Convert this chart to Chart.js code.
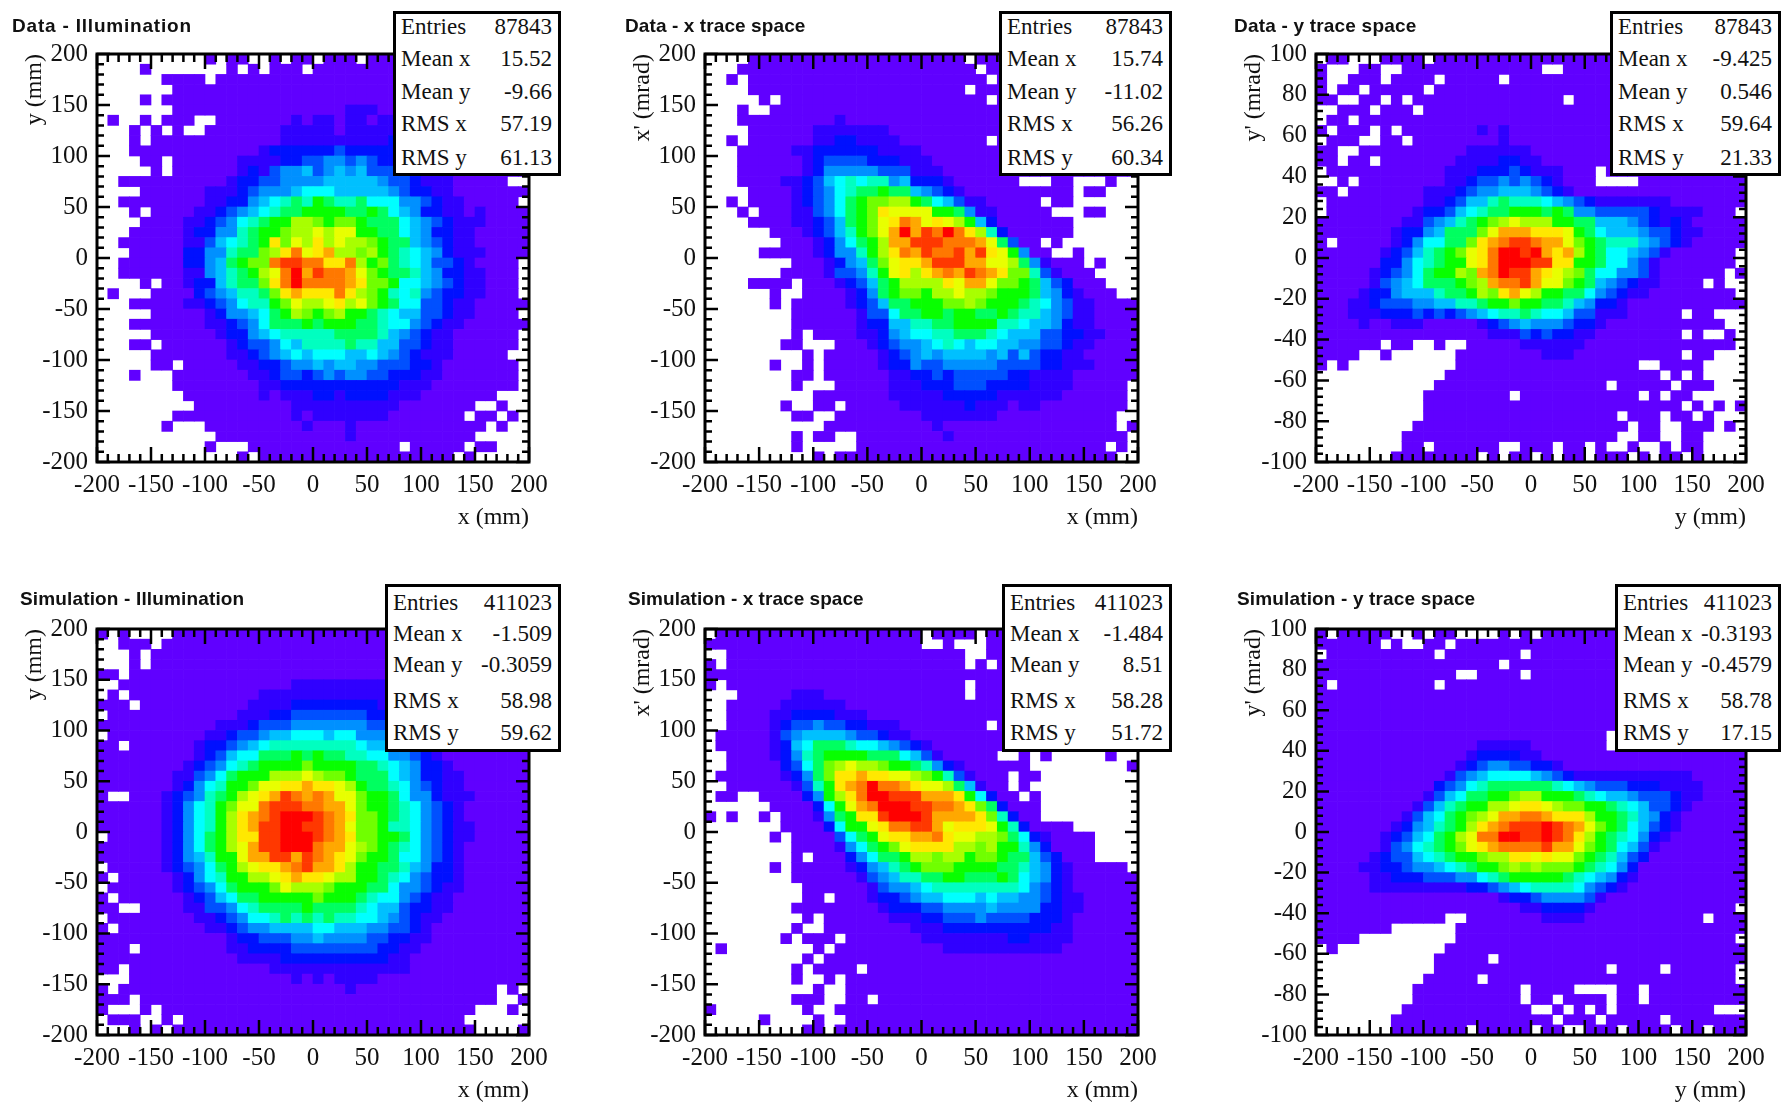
<!DOCTYPE html>
<html>
<head>
<meta charset="utf-8">
<title>Data and simulation trace space</title>
<script src="https://cdn.jsdelivr.net/npm/chart.js@4/dist/chart.umd.min.js"></script>
<style>
  html, body { margin: 0; padding: 0; background: #fff; }
  body { position: relative; width: 1783px; height: 1103px; overflow: hidden; }
  canvas { position: absolute; }
  .title { position: absolute; font: bold 19px "Liberation Sans", sans-serif; color: #111; white-space: nowrap; line-height: 20px; }
  .stats { position: absolute; box-sizing: border-box; background: #fff; border: 3px solid #000; font: 23px "Liberation Serif", serif; color: #111; }
  .stats div { position: absolute; left: 5px; right: 6px; display: flex; justify-content: space-between; line-height: 26px; white-space: nowrap; }
</style>
</head>
<body>
<script>
'use strict';

// one character per bin, top row first: . = empty, then 1-9, a-i = colour level 1 to 18
let dataIllumination = [
  ".......... 1.11..1.11 .111.11111 1111111111",
  "....1..... ..1.1.111. 1111111111 1111111111",
  "......1111 .111111111 1111111111 1111111111",
  ".......111 1111111111 1111111111 1111111111",
  "....1.1111 1111111111 1111111111 1111111111",
  ".......111 1111111111 1112221111 1111111111",
  ".1..1.111. .111111121 2212212222 2222211111",
  "...1.1.1.. 1111111222 2212222233 3322211111",
  "...1.11111 1111111222 2222222333 3322211111",
  "...1111111 1111123333 3343333333 3333222111",
  "....11.111 1112222334 4554543344 3332211111",
  ".....1.111 1112324556 4565644444 3322111111",
  "..11111111 1123344555 5666665443 22211111..",
  "....111111 2223455567 7766666543 3221111111",
  "..11111111 2233567898 a988977755 432211111.",
  "...1.11112 234567899a aaa99a9765 3322121111",
  "....111122 345789aacc babba99976 5432221111",
  "...1111123 35589aabcc dcddaa9976 5332211111",
  "..11111122 46789aebdc ecdccba996 5432211111",
  "...1111133 55899bcegd efccbca987 6532221111",
  "..11111133 569abbghhg geegcab987 644321111.",
  "..11111122 5689acdgif hggfdba998 653322111.",
  "....1.1123 36899begig gggfebba77 654322111.",
  ".1...11113 456889befe eegecba878 543322111.",
  "...1111122 345788abdc cdecdba977 4432211111",
  ".....11111 2355679acb abcaa98766 443221111.",
  "...1111111 223457999a 9aaa998775 4322111111",
  ".....11111 1233567888 8899998654 322111111.",
  "...11.1111 1123445768 8889886644 322111111.",
  ".....11111 1122345676 7776676543 22211111..",
  ".....11.11 1112233455 6566554443 321111111.",
  "...1...111 1111223443 4545544333 221111111.",
  ".......111 1111122333 3333333322 211111111.",
  "........11 1111121222 3323333222 1111111...",
  ".........1 1111111122 2222222211 11111..1..",
  ".......111 1111111121 2222222111 1111.11.1.",
  "......1... 1111111112 1112111111 111111.1..",
  ".......... .111111111 1112111111 11111.....",
  ".......... 1...111111 11111111.1 1111.11...",
  ".......... ...1.11111 1111111111 111.1....."
];

let dataXTrace = [
  "....111111 1111111111 1111.11111 1111111111",
  "...1111111 1111111111 11111.1111 1111111111",
  "..1.111111 1111111111 111111.111 1111111111",
  "....111111 1111111111 1111.11111 1111111111",
  ".....1.111 1111111111 111111.111 1111111111",
  "...1..1111 1111111111 1111111111 1111111111",
  "...1111111 1121111111 1111111111 1111111111",
  "....111111 2222222111 1111111111 1111111111",
  "..1.111111 2233222211 111111.111 1111111111",
  "...1111122 3333332222 1111111111 1111111111",
  "...1111112 3444433322 2111111111 1111111111",
  "...1111112 3555554442 2211111111 1111111111",
  "...1111223 4678788563 332111111. ..11...1..",
  "....111123 457899a996 5432111111 1111.11...",
  "..1.111123 4579abbcca 9764221111 1.11......",
  "...1.11122 4579abeddd daa9522111 11...11...",
  "....111122 3469abdegf dedca63111 1111......",
  "......1112 3468abdfif hgigec8311 1111......",
  ".......111 23579acffh hhgggfd941 1.1.......",
  ".....11111 23558acegf hgghfheda5 11..1.....",
  "........11 123569bdee fhhhffddc9 52111.1...",
  ".......111 124458adec efgfhgfebb 842111....",
  "....1111.1 1123469acc ccedffdbba 9643111...",
  "......1..1 1112359abb accdccbaaa 96532111..",
  "......1.11 111234699a aabbcbaaa9 8754221111",
  "........11 1111244799 aa9aa99a98 8654221111",
  "........11 1111233668 899aaaa887 6653221111",
  "........1. 1111223567 7889998766 6443322111",
  ".......11. ..11123455 6787677665 5443221111",
  ".........1 .111112345 6566665646 4332211111",
  "......1..1 .111112335 4455555444 4332221111",
  "........11 .111111223 3434444433 2222111111",
  "........1. ..11111222 3334443333 222211111.",
  ".......... 1111111222 2233333222 222111111.",
  ".......1.. 11.1111122 2222322212 211111111.",
  "........11 ..11111111 2222222111 11111111..",
  ".......... .111111111 1211111111 11111111.1",
  "........1. 11..111111 1121111111 111111111.",
  "........1. ....111111 1111111111 1111111.1.",
  ".......... 1.11111111 1111111111 11111111.."
];

let dataYTrace = [
  ".11...1111 .111111111 1111111111 1111111111",
  "1...11..11 1111111111 1..1111111 1111111111",
  "1..111.111 1.11111.11 1111111111 1111111111",
  "1.11.11111 .111111111 1111111111 1111111111",
  "11..11.1.1 1111111111 111.111111 1111111111",
  "..111.111. 1111111111 1111111111 1111111111",
  ".11.111111 1111111111 1111111111 1111111111",
  "1.111.1.11 1111121211 1111111111 1111111111",
  ".111..11.1 1111111211 1111111111 1111111111",
  "11..111111 1111222222 1111111111 1111111111",
  "11.11.1111 1112222332 2111111111 1111111111",
  ".111111111 1122233343 222111.111 1111111111",
  "..1.111111 1122344545 432111.... 1111111111",
  "11.1111111 2223455666 5432111111 1111111111",
  ".111111111 2234668988 8765432222 2221111111",
  ".111111112 33467899aa a9a9554444 432222111.",
  "1111111122 45689abcdc ccaa996665 4323211111",
  "1111111233 56999bdfff eeeda97666 5443221111",
  "1.11111235 7799befghh gffdba9888 6543211111",
  "1111112346 89abdegiih ifefca9776 542111111.",
  "1111113357 89aadegiii hheeaa9775 421111111.",
  "1111123457 9aacbfgihh fedcb97755 42111111.1",
  "1111124567 999abcfggh fddba96543 221111.1..",
  "1111233566 6899acbefd caa9975432 211111111.",
  "1112234445 566889aaba a998653321 1111111111",
  "1112223334 3434567889 8776442221 1111.11...",
  "1111211222 1111123456 5554332111 11111111..",
  "1111111111 1111112224 3433221111 1111.1..1.",
  "111111.11. .1..111112 2222211111 111111111.",
  "1111..1... ...1111111 1222111111 1111.11...",
  "1.1....... ...1111111 1111111111 ..1111....",
  ".......... ..11111111 1111111111 11.1.1....",
  ".......... .111111111 1111111.11 111.111...",
  ".......... 11111111.1 1111111111 .1.11.....",
  ".......... 1111111111 1111111111 1111.1.1.1",
  ".......... 1111111111 11111111.1 11.11.1...",
  ".........1 1111111111 111111111. 11..111.1.",
  "........11 1111111111 11111111.. 11..11....",
  "........11 .111111..1 11.11.1..1 ..1.11....",
  ".......111 11111.1.11 .1.11.111. 1.11.1...."
];

let simIllumination = [
  "1.1....111 1111111111 1111111111 1111111111",
  "..111.1111 1111111111 1111111111 1111111111",
  "...1.11111 1111111111 1111111111 1111111111",
  "...1.11111 1111111111 1111111111 1111111111",
  "11.1111111 1111111111 1111111111 1111111111",
  "..11111111 1111111122 2222222222 2211111111",
  ".1.1111111 1111122222 2222222222 2221111111",
  "111.111111 1111222233 3333332222 2221111111",
  ".111111111 1112223344 4444433333 3322111111",
  "1111111111 1222344455 5555544444 4433221111",
  ".111111111 2234456677 7677555443 3221111111",
  "11.1111112 3345678888 8888766554 3322111111",
  "1111111112 34677999a9 a998877554 3211111111",
  "1111111123 45789aaaab aaaa998765 3321111111",
  "1111111224 579aaacccd cbba999765 3322111111",
  "1111111235 78aabddeef eedca99875 4322111111",
  "1..1112345 89acdefhgf gfddbaa975 5322211111",
  "1111112357 8abddghhhg gffdbaa987 5432111111",
  "1111112357 8acefghiii hgfebba987 5432111111",
  "1111112357 8acefhhiih hgfdbba887 5432211111",
  ".111112357 9aceehhiii hgfebbaa97 5432211111",
  "1111112357 9acdfhhiii gffdcba987 5432111111",
  "1111112356 8aadffhhfh gfedbaa977 5432111111",
  ".111112345 79acdeefgh ffecaa9986 5332111111",
  "1.11111235 78aaccdefe edccaa9875 4332111111",
  ".111111234 579aaabdcc cbaaa99755 4322111111",
  "1.11111123 46799aaaaa baaa987754 3221111111",
  "11..111122 445789999a 9999876643 3221111111",
  ".111111112 2345778989 8988776543 2211111111",
  "1.11111111 2234556666 7766655443 2111111111",
  "1111111111 1123344455 6555544332 2111111111",
  "111.111111 1122333344 4444443322 1111111111",
  "1111111111 1112222333 3333333221 1111111111",
  "11.1111111 1111112222 2222222221 1111111111",
  "...1111111 1111111121 2122221111 1111111111",
  "1.11111111 1111111111 1112111111 1111111.1.",
  "111.111111 1111111111 1111111111 1111111..1",
  "1...1.1111 1111111111 1111111111 11111...1.",
  ".111..1.11 1111111111 1111111111 1111......",
  "...1.1.111 1111111111 1111111111 11111....1"
];

let simXTrace = [
  ".111111111 1111111111 .1111.1111 1111111111",
  "1111111111 1111111111 ..1...1111 1111111111",
  "..11111111 1111111111 1111..1111 1111111111",
  "1.11111111 1111111111 1111.1.111 1111111111",
  "1111111111 1111111111 1111111111 1111111111",
  "1.11111111 1111111111 1111.11111 1111111111",
  "...1111122 2111111111 1111.11111 1111111111",
  "..11111222 2221111111 1111111111 1111111111",
  "..11112233 3322211111 1111111111 1111111111",
  "..11112344 5443322211 111111.111 1111111111",
  ".111112456 6665443221 1111111111 1111111111",
  ".111112367 9998776543 2111111111 1111111111",
  "..11112358 9aaaa99976 4211111..1 .1.....1..",
  "..11111347 9bcdccbaa9 8532111111 .........1",
  ".111111235 9beefeeddc ba842111.1 1.........",
  "..11111124 8aefgiggfe ddc96211.1 ..........",
  ".11..11113 5acegiihhh fffea7311. 1.........",
  "......1111 37adfgiiih hggfeb9311 1.........",
  "1.1..1.111 259aeehiii hffffeb831 1.........",
  ".......111 137aadeggh hfdeeeda83 1111......",
  "......1.11 11479adeef fgeddccb97 321111....",
  "........11 112579abde eeeccbcaa8 531111....",
  "........1. 11135799ac cbccabba99 643111....",
  "......1.11 111235689a bbbaaaa998 653211111.",
  "........11 1111245688 99aa999a97 6532111111",
  ".........1 1111124556 7888888887 5432111111",
  ".........1 1.11123345 6677767665 5432211111",
  "........11 1111112333 4455556555 5332211111",
  ".........1 .111111222 3344454444 3332111111",
  "........1. .111111112 2233333333 3322111111",
  ".......1.1 11.1111111 2222222233 2222111111",
  ".1........ 1.11111111 1122222222 2221111111",
  ".........1 .111111111 1111111111 1111111111",
  "........1. 1111.11111 1111111111 1111111111",
  "........1. .1.1111111 1111111111 1111111111",
  ".......... 1..1111111 1111111111 1111111111",
  "........11 1..11.1111 1111111111 1111111111",
  "1........1 ..11111111 1111111111 1111111111",
  ".....1.... 1..1111111 1111111111 1111111111",
  ".........1 1.11111111 1111111111 1111111111"
];

let simYTrace = [
  "1.11111..1 .11....1.1 .111111111 1111111111",
  "111111.1.. 11.1111111 1111111111 1111111111",
  ".111111111 1.1111111. 1111111111 1111111111",
  "1111111111 1111111.11 1111111111 1111111111",
  "1111111111 111..1111. 1111111111 1111111111",
  "1.11111111 1.11111111 1111111111 1111111111",
  "1111111111 1111111111 1111111111 1111111111",
  "1111111111 1111111111 1111111111 1111111111",
  "1111111111 1111111111 1111111111 1111111111",
  "1111111111 1111111111 1111111111 1111111111",
  "1111111111 1111111111 1111111.11 1111111111",
  "1111111111 1111122222 1111111.11 1111111111",
  "1111111111 1111233332 2111111111 1111111111",
  "1111111111 1112345544 3321111111 1111111111",
  "1111111111 1124567777 6543222222 2222211111",
  "1111111111 1345789999 9987654443 3322221111",
  "1111111111 246799aabc caaa987665 4443221111",
  "1111111112 4689aaccde edcbbaa987 6443211111",
  "1111111124 679abcdffg gfeeecaa98 6532111111",
  "1111111235 689acefghh hihgfdba97 6432111111",
  "1111112346 79acdggiih hihgeca987 5321111111",
  "1111112457 89abdefggg ghffdba976 4211111111",
  "1111123446 789aabccee deddba9864 3111111111",
  "1111223345 56789aabcb cbbba98753 1111111111",
  "1111122333 44455789aa aaa9876532 1111111111",
  "1111122222 2222334567 8888754321 1111111111",
  "1111111111 1111111233 4555542111 1111111111",
  "1111111111 1111111112 2333321111 111111111.",
  "1111111111 11..111111 1222211111 111111.111",
  "1111111... ...1111111 1111111111 1111111111",
  "1111...... ...1111111 1111111111 111111111.",
  ".1........ ..11111111 1111111111 1111111111",
  ".......... .11111.111 1111111111 1111111111",
  ".......... .111111111 1111111.11 11.111111.",
  ".......... 11111.1111 1111111111 111111111.",
  ".........1 111111111. 1111....11 .111111111",
  ".........1 111111111. 11.1111.11 .111111111",
  "........11 1111111111 ..1.1.1.11 1111111...",
  ".......111 1111111111 11.111.111 11.1111111",
  ".......111 1111.11111 .11..111.1 111.11.111"
];

let levelColors = [null,
  '#6000ff', '#3000ff', '#0010ff', '#0050ff', '#0090ff', '#00c0ff', '#00ffff', '#00ffc0', '#00ff60',
  '#08ff00', '#70ff00', '#a8ff00', '#e8ff00', '#ffe800', '#ffa800', '#ff7800', '#ff3800', '#ff0000'
];

let mmLabels = [-200, -150, -100, -50, 0, 50, 100, 150, 200];
let yPrimeLabels = [-100, -80, -60, -40, -20, 0, 20, 40, 60, 80, 100];

let statNames = ['Entries', 'Mean x', 'Mean y', 'RMS x', 'RMS y'];
let statsDataIllumination = ['87843', '15.52', '-9.66', '57.19', '61.13'];
let statsDataXTrace = ['87843', '15.74', '-11.02', '56.26', '60.34'];
let statsDataYTrace = ['87843', '-9.425', '0.546', '59.64', '21.33'];
let statsSimIllumination = ['411023', '-1.509', '-0.3059', '58.98', '59.62'];
let statsSimXTrace = ['411023', '-1.484', '8.51', '58.28', '51.72'];
let statsSimYTrace = ['411023', '-0.3193', '-0.4579', '58.78', '17.15'];

// panel frames and stat boxes, page pixels
let rowTop = { top: 49.5, bottom: 461.5 };
let rowBottom = { top: 624.5, bottom: 1035 };
let statRowsTop = [27, 59, 92, 124, 158];
let statRowsBottom = [603, 634, 665, 701, 733];

let panels = [
  { title: 'Data - Illumination', titleX: 12, titleY: 26, titleSpacing: 0.8, rows: dataIllumination, stats: statsDataIllumination, left: 96.5, right: 529, frame: rowTop, box: [393, 11, 561, 176], statRows: statRowsTop, xTitle: 'x (mm)', yTitle: 'y (mm)', yMax: 200, yStep: 10, yLabels: mmLabels },
  { title: 'Data - x trace space', titleX: 625, titleY: 26, titleSpacing: 0.1, rows: dataXTrace, stats: statsDataXTrace, left: 705, right: 1138.5, frame: rowTop, box: [999, 11, 1172, 176], statRows: statRowsTop, xTitle: 'x (mm)', yTitle: "x' (mrad)", yMax: 200, yStep: 10, yLabels: mmLabels },
  { title: 'Data - y trace space', titleX: 1234, titleY: 26, titleSpacing: 0.2, rows: dataYTrace, stats: statsDataYTrace, left: 1316, right: 1746, frame: rowTop, box: [1610, 11, 1781, 176], statRows: statRowsTop, xTitle: 'y (mm)', yTitle: "y' (mrad)", yMax: 100, yStep: 4, yLabels: yPrimeLabels },
  { title: 'Simulation - Illumination', titleX: 20, titleY: 599, titleSpacing: 0.15, rows: simIllumination, stats: statsSimIllumination, left: 96.5, right: 529, frame: rowBottom, box: [385, 584, 561, 752], statRows: statRowsBottom, xTitle: 'x (mm)', yTitle: 'y (mm)', yMax: 200, yStep: 10, yLabels: mmLabels },
  { title: 'Simulation - x trace space', titleX: 628, titleY: 599, titleSpacing: 0.05, rows: simXTrace, stats: statsSimXTrace, left: 705, right: 1138.5, frame: rowBottom, box: [1002, 584, 1172, 752], statRows: statRowsBottom, xTitle: 'x (mm)', yTitle: "x' (mrad)", yMax: 200, yStep: 10, yLabels: mmLabels },
  { title: 'Simulation - y trace space', titleX: 1237, titleY: 599, titleSpacing: 0.15, rows: simYTrace, stats: statsSimYTrace, left: 1316, right: 1746, frame: rowBottom, box: [1615, 584, 1781, 752], statRows: statRowsBottom, xTitle: 'y (mm)', yTitle: "y' (mrad)", yMax: 100, yStep: 4, yLabels: yPrimeLabels }
];

let textFont = { family: '"Liberation Serif", serif', size: 25 };
let titleFont = { family: '"Liberation Serif", serif', size: 24 };

// ROOT style frame: ticks point inward on all four sides
let frameTicks = {
  id: 'frameTicks',
  afterDatasetsDraw(chart) {
    let ctx = chart.ctx;
    let area = chart.chartArea;
    ctx.save();
    ctx.strokeStyle = '#000';
    ctx.lineWidth = 2.5;
    ctx.beginPath();
    chart.scales.x.ticks.forEach(t => {
      let px = chart.scales.x.getPixelForValue(t.value);
      let len = t.label ? 15 : 8;
      ctx.moveTo(px, area.top);
      ctx.lineTo(px, area.top + len);
      ctx.moveTo(px, area.bottom);
      ctx.lineTo(px, area.bottom - len);
    });
    chart.scales.y.ticks.forEach(t => {
      let py = chart.scales.y.getPixelForValue(t.value);
      let len = t.label ? 13 : 7;
      ctx.moveTo(area.left, py);
      ctx.lineTo(area.left + len, py);
      ctx.moveTo(area.right, py);
      ctx.lineTo(area.right - len, py);
    });
    ctx.stroke();
    ctx.lineWidth = 3;
    ctx.strokeRect(area.left, area.top, area.right - area.left, area.bottom - area.top);
    ctx.restore();
  }
};

function buildCells(rows, yMax) {
  let cells = [];
  let colors = [];
  let yBin = yMax / 20;
  rows.forEach((row, r) => {
    let chars = row.replace(/ /g, '');
    for (let c = 0; c < 40; c++) {
      let level = chars[c] === '.' || chars[c] === undefined ? 0 : parseInt(chars[c], 36);
      if (level > 0) {
        let yHigh = yMax - r * yBin;
        cells.push({ x: -195 + c * 10, y: [yHigh - yBin, yHigh] });
        colors.push(levelColors[level]);
      }
    }
  });
  return { cells, colors };
}

function addPanel(panel) {
  let yAxisWidth = 77;
  let xAxisHeight = 70;
  let padTop = 20;
  let padRight = 30;
  let frame = panel.frame;

  let canvas = document.createElement('canvas');
  canvas.width = panel.right - panel.left + yAxisWidth + padRight;
  canvas.height = frame.bottom - frame.top + padTop + xAxisHeight;
  canvas.style.left = (panel.left - yAxisWidth) + 'px';
  canvas.style.top = (frame.top - padTop) + 'px';
  document.body.appendChild(canvas);

  let built = buildCells(panel.rows, panel.yMax);

  new Chart(canvas.getContext('2d'), {
    type: 'bar',
    data: {
      datasets: [{
        data: built.cells,
        backgroundColor: built.colors,
        borderWidth: 0,
        barPercentage: 1,
        categoryPercentage: 1
      }]
    },
    options: {
      responsive: false,
      animation: false,
      devicePixelRatio: 1,
      events: [],
      layout: { autoPadding: false, padding: { top: padTop, right: padRight, left: 0, bottom: 0 } },
      plugins: { legend: { display: false }, tooltip: { enabled: false }, title: { display: false } },
      scales: {
        x: {
          type: 'linear',
          min: -200,
          max: 200,
          offset: false,
          grid: { display: false, drawTicks: false },
          border: { display: false },
          afterFit(scale) { scale.height = xAxisHeight; },
          ticks: {
            stepSize: 10,
            autoSkip: false,
            maxRotation: 0,
            minRotation: 0,
            padding: 8,
            color: '#111',
            font: textFont,
            callback: v => mmLabels.includes(v) ? String(v) : ''
          },
          title: { display: true, text: panel.xTitle, align: 'end', color: '#111', font: titleFont, padding: 0 }
        },
        y: {
          type: 'linear',
          min: -panel.yMax,
          max: panel.yMax,
          grid: { display: false, drawTicks: false },
          border: { display: false },
          afterFit(scale) { scale.width = yAxisWidth; },
          ticks: {
            stepSize: panel.yStep,
            autoSkip: false,
            padding: 9,
            color: '#111',
            font: textFont,
            callback: v => panel.yLabels.includes(v) ? String(v) : ''
          },
          title: { display: true, text: panel.yTitle, align: 'end', color: '#111', font: titleFont, padding: 0 }
        }
      }
    },
    plugins: [frameTicks]
  });

  let title = document.createElement('div');
  title.className = 'title';
  title.textContent = panel.title;
  title.style.left = panel.titleX + 'px';
  title.style.top = (panel.titleY - 10) + 'px';
  title.style.letterSpacing = panel.titleSpacing + 'px';
  document.body.appendChild(title);

  let box = document.createElement('div');
  box.className = 'stats';
  box.style.left = panel.box[0] + 'px';
  box.style.top = panel.box[1] + 'px';
  box.style.width = (panel.box[2] - panel.box[0]) + 'px';
  box.style.height = (panel.box[3] - panel.box[1]) + 'px';
  statNames.forEach((name, i) => {
    let row = document.createElement('div');
    row.style.top = (panel.statRows[i] - panel.box[1] - 3 - 13) + 'px';
    let label = document.createElement('span');
    label.textContent = name;
    let value = document.createElement('span');
    value.textContent = panel.stats[i];
    row.appendChild(label);
    row.appendChild(value);
    box.appendChild(row);
  });
  document.body.appendChild(box);
}

panels.forEach(addPanel);
</script>
</body>
</html>
